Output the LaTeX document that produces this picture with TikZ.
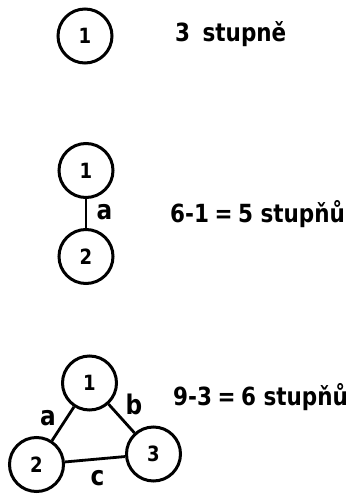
\documentclass[tikz,border=0pt]{standalone}
\usepackage{fontspec}
\setmainfont{DejaVu Sans}[FakeStretch=0.86]
\begin{document}
\begin{tikzpicture}[x=1pt,y=-1pt,
  vertex/.style={draw,circle,line width=3pt,minimum size=54pt,inner sep=0pt,font=\bfseries\fontsize{21}{21}\selectfont},
  edge/.style={line width=2.8pt},
  elabel/.style={font=\bfseries\fontsize{27}{27}\selectfont,inner sep=0pt},
  caption/.style={font=\bfseries\fontsize{25}{25}\selectfont,anchor=base west,inner sep=0pt}]
\useasboundingbox (0,0) rectangle (356,495);
% graph 1
\node[vertex] (s1) at (85,36) {1};
\node[caption] (t1) at (175,42) {3\hspace{0.5em}stupně};
% graph 2
\node[vertex] (d1) at (86,170.5) {1};
\node[vertex] (d2) at (86,256.5) {2};
\draw[edge] (d1) -- (d2);
\node[elabel] (la) at (104.5,212) {a};
\node[caption] (t2) at (170,222) {6-1\hspace{0.22em}=\hspace{0.22em}5 stupňů};
% graph 3
\node[vertex] (r1) at (89.5,383) {1};
\node[vertex] (r2) at (36.5,464.5) {2};
\node[vertex] (r3) at (153.5,454) {3};
\draw[edge] (r1) -- (r2);
\draw[edge] (r1) -- (r3);
\draw[edge] (r2) -- (r3);
\node[elabel] (ra) at (48,418) {a};
\node[elabel] (rb) at (134,404) {b};
\node[elabel] (rc) at (97.5,478) {c};
\node[caption] (t3) at (173,405) {9-3\hspace{0.22em}=\hspace{0.22em}6 stupňů};
\end{tikzpicture}
\end{document}
